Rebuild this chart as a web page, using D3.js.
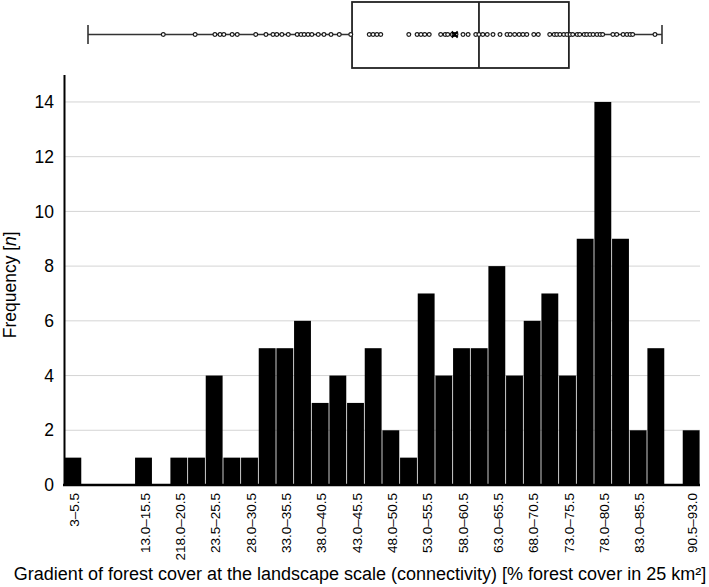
<!DOCTYPE html>
<html>
<head>
<meta charset="utf-8">
<script src="https://cdn.jsdelivr.net/npm/d3@7/dist/d3.min.js"></script>
<style>
  html, body { margin: 0; padding: 0; background: #fff; }
  svg { display: block; font-family: "Liberation Sans", Arial, sans-serif; }
</style>
</head>
<body>
<div id="chart"></div>
<script>
// histogram bins (2.5 % wide, 3 to 93)
const binCounts = [1, 0, 0, 0, 1, 0, 1, 1, 4, 1, 1, 5, 5, 6, 3, 4, 3, 5, 2, 1,
  7, 4, 5, 5, 8, 4, 6, 7, 4, 9, 14, 9, 2, 5, 0, 2];

// which bins carry a label, and the label text (as printed)
const labelBins = [0, 4, 6, 8, 10, 12, 14, 16, 18, 20, 22, 24, 26, 28, 30, 32, 35];
const labelTexts = ['3–5.5', '13.0–15.5', '218.0–20.5', '23.5–25.5', '28.0–30.5',
  '33.0–35.5', '38.0–40.5', '43.0–45.5', '48.0–50.5', '53.0–55.5', '58.0–60.5',
  '63.0–65.5', '68.0–70.5', '73.0–75.5', '78.0–80.5', '83.0–85.5', '90.5–93.0'];

const yTicks = [0, 2, 4, 6, 8, 10, 12, 14];

// box plot summary (% forest cover)
const boxMin = 3.0;
const boxQ1 = 44.4;
const boxMedian = 64.3;
const boxQ3 = 78.4;
const boxMax = 93.0;
const boxMean = 60.5;

// individual observations drawn on the whisker line
const obsValues = [14.8, 19.8, 22.9, 23.7, 24.3, 25.6, 26.4, 29.3, 30.9, 32.0,
  32.6, 33.4, 34.4, 35.8, 36.4, 36.9, 37.5, 38.1, 39.1, 40.0, 41.1, 42.4, 44.2,
  47.1, 47.7, 48.3, 48.9, 53.3, 54.6, 55.2, 55.8, 56.5, 58.3, 59.0, 59.4, 60.1,
  60.4, 60.7, 61.8, 62.6, 63.8, 64.3, 64.9, 65.6, 66.5, 67.6, 68.7, 69.2, 69.9,
  70.6, 71.2, 71.8, 72.9, 73.6, 75.4, 76.1, 76.5, 77.0, 77.6, 78.1, 78.6, 79.0,
  79.7, 80.1, 80.8, 81.2, 81.7, 82.2, 82.8, 83.3, 83.7, 85.3, 85.9, 86.9, 87.5,
  88.0, 88.4, 91.9];

const W = 709, H = 587;
const plotLeft = 64, plotRight = 700, plotBottom = 485, plotTop = 74.6;

const svg = d3.select('#chart')
  .append('svg')
  .attr('width', W)
  .attr('height', H);

const x = d3.scaleBand()
  .domain(d3.range(binCounts.length))
  .range([plotLeft, plotRight])
  .paddingInner(0)
  .paddingOuter(0);

const y = d3.scaleLinear()
  .domain([0, 15])
  .range([plotBottom, plotTop]);

// gridlines
svg.append('g')
  .selectAll('line')
  .data(yTicks.filter(d => d > 0))
  .enter()
  .append('line')
  .attr('x1', plotLeft)
  .attr('x2', plotRight)
  .attr('y1', d => y(d))
  .attr('y2', d => y(d))
  .style('stroke', '#d4d4d4')
  .style('stroke-width', 1);

// bars, thin grey seam between neighbours
svg.append('g')
  .selectAll('rect')
  .data(binCounts)
  .enter()
  .append('rect')
  .attr('x', (d, i) => x(i) + 0.4)
  .attr('width', x.bandwidth() - 0.8)
  .attr('y', d => y(d))
  .attr('height', d => y(0) - y(d))
  .style('fill', '#000');

// y axis
const yAxis = svg.append('g')
  .attr('transform', `translate(${plotLeft},0)`)
  .call(d3.axisLeft(y).tickValues(yTicks).tickSize(0).tickPadding(10));

yAxis.select('.domain')
  .style('stroke', '#000')
  .style('stroke-width', 2);

yAxis.selectAll('text')
  .style('font-size', '17.5px')
  .style('fill', '#000')
  .style('font-family', '"Liberation Sans", Arial, sans-serif');

// x axis line
svg.append('line')
  .attr('x1', plotLeft - 1)
  .attr('x2', plotRight)
  .attr('y1', plotBottom)
  .attr('y2', plotBottom)
  .style('stroke', '#000')
  .style('stroke-width', 2.5);

// x tick labels (rotated)
svg.append('g')
  .selectAll('text')
  .data(labelBins)
  .enter()
  .append('text')
  .attr('transform', d => `translate(${x(d) + x.bandwidth() / 2 + 1.5},${plotBottom + 8}) rotate(-90)`)
  .attr('dy', '0.35em')
  .attr('text-anchor', 'end')
  .style('font-size', '13.5px')
  .style('fill', '#000')
  .text((d, i) => labelTexts[i]);

// axis titles
const yTitle = svg.append('text')
  .attr('transform', `translate(16,${(plotBottom + plotTop) / 2 + 5}) rotate(-90)`)
  .attr('text-anchor', 'middle')
  .style('font-size', '17.5px')
  .style('fill', '#000');
yTitle.append('tspan').text('Frequency [');
yTitle.append('tspan').style('font-style', 'italic').text('n');
yTitle.append('tspan').text(']');

svg.append('text')
  .attr('x', 360)
  .attr('y', 580)
  .attr('text-anchor', 'middle')
  .style('font-size', '18px')
  .style('fill', '#000')
  .text('Gradient of forest cover at the landscape scale (connectivity) [% forest cover in 25 km²]');

// box plot on top
const bx = d3.scaleLinear()
  .domain([3, 93])
  .range([88, 662]);

const boxTop = 2, boxBottom = 68, boxMid = 34.5, capHalf = 9.5;
const boxColor = '#222';
const bp = svg.append('g');

bp.append('line')
  .attr('x1', bx(boxMin))
  .attr('x2', bx(boxMax))
  .attr('y1', boxMid)
  .attr('y2', boxMid)
  .style('stroke', '#333')
  .style('stroke-width', 1.6);

bp.selectAll('line.cap')
  .data([boxMin, boxMax])
  .enter()
  .append('line')
  .attr('class', 'cap')
  .attr('x1', d => bx(d))
  .attr('x2', d => bx(d))
  .attr('y1', boxMid - capHalf)
  .attr('y2', boxMid + capHalf)
  .style('stroke', '#333')
  .style('stroke-width', 1.6);

bp.append('rect')
  .attr('x', bx(boxQ1))
  .attr('y', boxTop)
  .attr('width', bx(boxQ3) - bx(boxQ1))
  .attr('height', boxBottom - boxTop)
  .style('fill', '#fff')
  .style('stroke', boxColor)
  .style('stroke-width', 1.8);

bp.append('line')
  .attr('x1', bx(boxMedian))
  .attr('x2', bx(boxMedian))
  .attr('y1', boxTop)
  .attr('y2', boxBottom)
  .style('stroke', boxColor)
  .style('stroke-width', 1.8);

// observations
bp.selectAll('circle')
  .data(obsValues)
  .enter()
  .append('circle')
  .attr('cx', d => bx(d))
  .attr('cy', boxMid)
  .attr('r', 1.9)
  .style('fill', '#fff')
  .style('stroke', '#1a1a1a')
  .style('stroke-width', 1.2);

// mean marker
const mx = bx(boxMean), m = 3;
bp.append('path')
  .attr('d', `M${mx - m},${boxMid - m}L${mx + m},${boxMid + m}M${mx - m},${boxMid + m}L${mx + m},${boxMid - m}`)
  .style('stroke', '#000')
  .style('stroke-width', 1.8);
</script>
</body>
</html>
